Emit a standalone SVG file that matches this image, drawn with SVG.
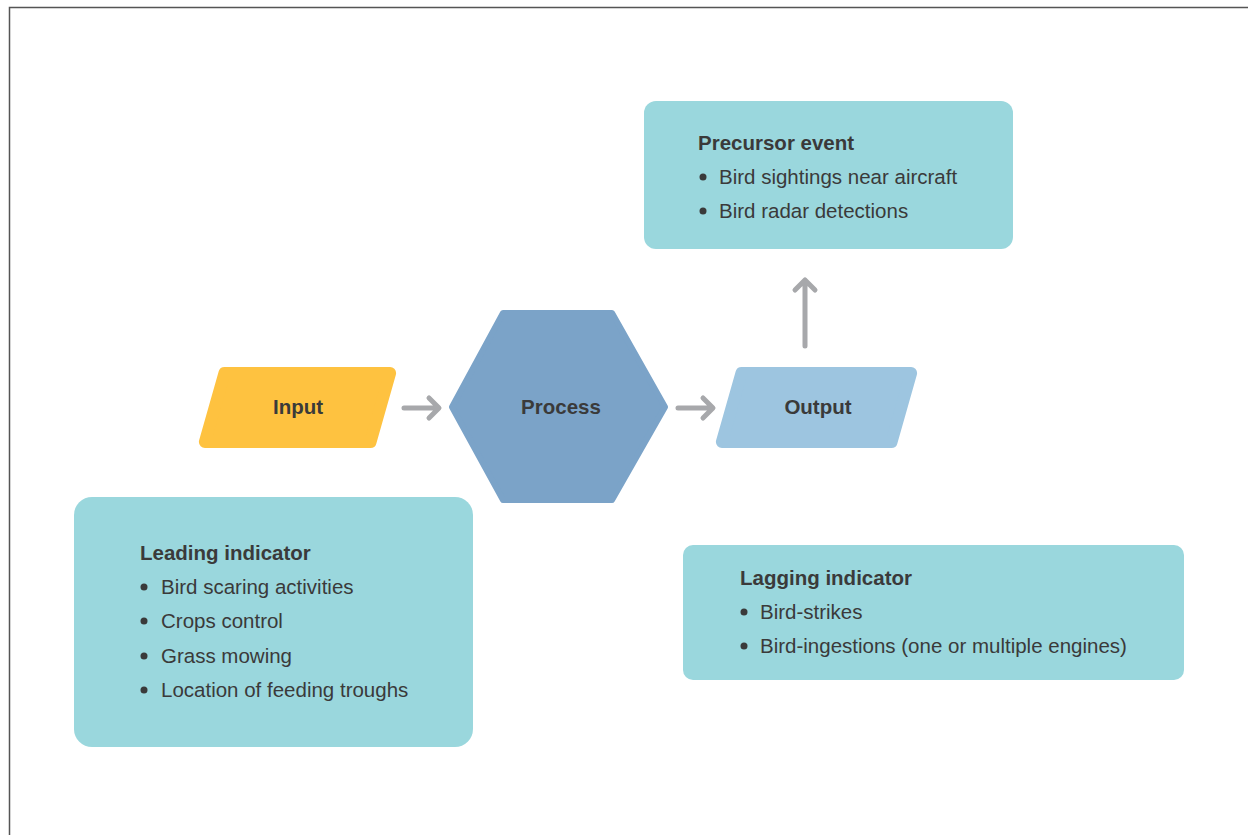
<svg xmlns="http://www.w3.org/2000/svg" width="1249" height="835" viewBox="0 0 1249 835">
<style>
text{font-family:"Liberation Sans",Arial,sans-serif;fill:#3a3a3a;font-size:20.5px}
.b{font-weight:bold}
.lbl{font-weight:bold;text-anchor:middle}
.box{fill:#9ad7dd}
.conn{fill:none;stroke:#a7a8ab;stroke-width:5;stroke-linecap:round;stroke-linejoin:round}
.dot{fill:#3a3a3a}
</style>
<rect width="1249" height="835" fill="#fff"/>
<path d="M9.5,835 V7.5 H1248" fill="none" stroke="#555" stroke-width="1.5"/>

<g id="precursor">
<rect class="box" x="644" y="101" width="369" height="148" rx="12"/>
<text class="b" x="698" y="150">Precursor event</text>
<circle class="dot" cx="703" cy="177" r="3.5"/>
<text x="719" y="184">Bird sightings near aircraft</text>
<circle class="dot" cx="703" cy="211" r="3.5"/>
<text x="719" y="218">Bird radar detections</text>
</g>

<g id="input">
<polygon points="224.5,373 390.1,373 370.5,442 204.9,442" fill="#fec240" stroke="#fec240" stroke-width="12" stroke-linejoin="round"/>
<text class="lbl" x="298" y="414">Input</text>
</g>

<g id="process">
<polygon points="503,313 612,313 665,407 612,500 503,500 452,407" fill="#7ba3c8" stroke="#7ba3c8" stroke-width="6" stroke-linejoin="round"/>
<text class="lbl" x="561" y="414">Process</text>
</g>

<g id="output">
<polygon points="741.5,373 911.1,373 891.5,442 721.9,442" fill="#9dc5e0" stroke="#9dc5e0" stroke-width="12" stroke-linejoin="round"/>
<text class="lbl" x="818" y="414">Output</text>
</g>

<g id="leading">
<rect class="box" x="74" y="497" width="399" height="250" rx="18"/>
<text class="b" x="140" y="560">Leading indicator</text>
<circle class="dot" cx="144" cy="587" r="3.5"/>
<text x="161" y="594">Bird scaring activities</text>
<circle class="dot" cx="144" cy="621" r="3.5"/>
<text x="161" y="628">Crops control</text>
<circle class="dot" cx="144" cy="656" r="3.5"/>
<text x="161" y="663">Grass mowing</text>
<circle class="dot" cx="144" cy="690" r="3.5"/>
<text x="161" y="697">Location of feeding troughs</text>
</g>

<g id="lagging">
<rect class="box" x="683" y="545" width="501" height="135" rx="10"/>
<text class="b" x="740" y="585">Lagging indicator</text>
<circle class="dot" cx="744" cy="612" r="3.5"/>
<text x="760" y="619">Bird-strikes</text>
<circle class="dot" cx="744" cy="646" r="3.5"/>
<text x="760" y="653">Bird-ingestions (one or multiple engines)</text>
</g>

<g id="connectors">
<path class="conn" d="M404,408 H438 M429,398 L439,408 L429,418"/>
<path class="conn" d="M678,408 H712 M703,398 L713,408 L703,418"/>
<path class="conn" d="M805,346 V280 M795,290 L805,280 L815,290"/>
</g>
</svg>
